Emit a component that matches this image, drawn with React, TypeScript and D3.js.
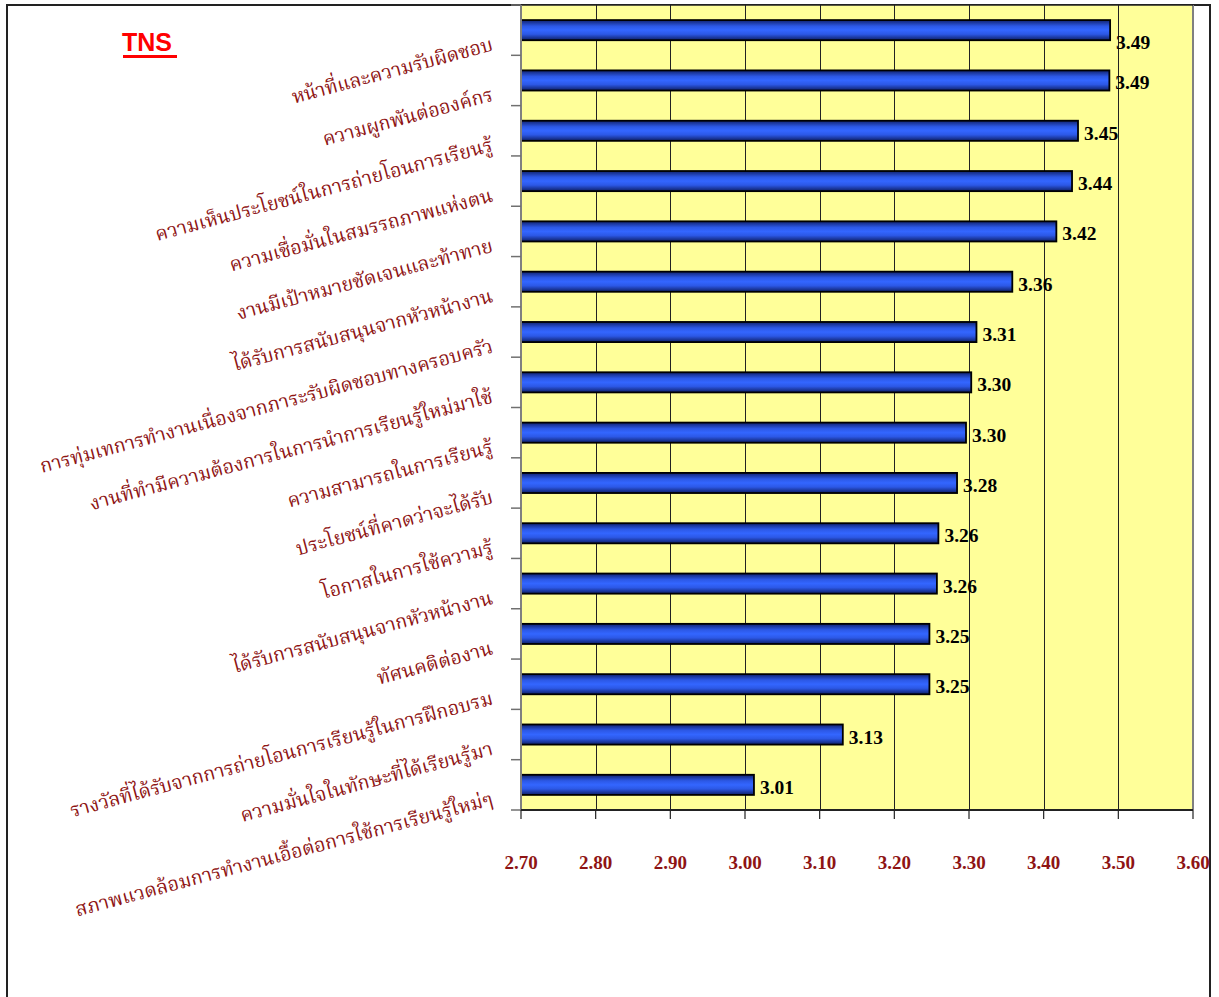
import React from "react";
import * as d3 from "d3";

const categories: string[] = [
  "หน้าที่และความรับผิดชอบ",
  "ความผูกพันต่อองค์กร",
  "ความเห็นประโยชน์ในการถ่ายโอนการเรียนรู้",
  "ความเชื่อมั่นในสมรรถภาพแห่งตน",
  "งานมีเป้าหมายชัดเจนและท้าทาย",
  "ได้รับการสนับสนุนจากหัวหน้างาน",
  "การทุ่มเทการทำงานเนื่องจากภาระรับผิดชอบทางครอบครัว",
  "งานที่ทำมีความต้องการในการนำการเรียนรู้ใหม่มาใช้",
  "ความสามารถในการเรียนรู้",
  "ประโยชน์ที่คาดว่าจะได้รับ",
  "โอกาสในการใช้ความรู้",
  "ได้รับการสนับสนุนจากหัวหน้างาน",
  "ทัศนคติต่องาน",
  "รางวัลที่ได้รับจากการถ่ายโอนการเรียนรู้ในการฝึกอบรม",
  "ความมั่นใจในทักษะที่ได้เรียนรู้มา",
  "สภาพแวดล้อมการทำงานเอื้อต่อการใช้การเรียนรู้ใหม่ๆ",
];

const values: number[] = [
  3.489, 3.488, 3.446, 3.438, 3.417, 3.358, 3.31, 3.303, 3.296, 3.284, 3.259,
  3.257, 3.247, 3.247, 3.131, 3.012,
];

const xTicks: number[] = [2.7, 2.8, 2.9, 3.0, 3.1, 3.2, 3.3, 3.4, 3.5, 3.6];
const titleText = "TNS";

const W = 1219;
const H = 997;
const plot = { left: 521, right: 1193, top: 5, bottom: 810 };
const labelRed = "#8e1414";
const thaiFont =
  "'Norasi', 'Noto Serif Thai', 'Noto Sans Thai', 'Tlwg Typo', 'Loma', 'Garuda', 'DejaVu Serif', serif";
const numFont = "'Liberation Serif', 'Times New Roman', serif";

export default function App() {
  const x = d3.scaleLinear().domain([2.7, 3.6]).range([plot.left, plot.right]);
  const idx = categories.map((_, i) => i);
  const y = d3
    .scaleBand<number>()
    .domain(idx)
    .range([plot.top, plot.bottom])
    .paddingInner(0.6)
    .paddingOuter(0.3);
  const step = y.step();
  const bw = y.bandwidth();
  const center = (i: number) => (y(i) as number) + bw / 2;
  const boundaries = d3.range(categories.length + 1).map((k) => plot.top + k * step);

  return (
    <svg
      width={W}
      height={H}
      style={{ position: "absolute", left: 0, top: 0, display: "block", background: "#fff" }}
    >
      <defs>
        <linearGradient id="barGrad" x1="0" y1="0" x2="0" y2="1">
          <stop offset="0%" stopColor="#10226e" />
          <stop offset="30%" stopColor="#2c58e6" />
          <stop offset="50%" stopColor="#3366ff" />
          <stop offset="70%" stopColor="#2c58e6" />
          <stop offset="100%" stopColor="#0e1f66" />
        </linearGradient>
      </defs>

      {/* outer frame */}
      <path d={`M7,${H + 5} L7,5 L1210,5 L1210,${H + 5}`} fill="none" stroke="#222" strokeWidth={2} />

      {/* plot background */}
      <rect
        x={plot.left}
        y={plot.top}
        width={plot.right - plot.left}
        height={plot.bottom - plot.top}
        fill="#ffff99"
      />

      {/* gridlines */}
      {xTicks.slice(1, -1).map((t) => (
        <line
          key={"g" + t}
          x1={Math.round(x(t)) + 0.5}
          x2={Math.round(x(t)) + 0.5}
          y1={plot.top}
          y2={plot.bottom}
          stroke="#222"
          strokeWidth={1}
        />
      ))}
      <line x1={plot.right} x2={plot.right} y1={plot.top} y2={plot.bottom} stroke="#808080" strokeWidth={2} />
      <line x1={plot.left} x2={plot.right} y1={plot.top} y2={plot.top} stroke="#222" strokeWidth={1.5} />

      {/* bars */}
      {values.map((v, i) => (
        <rect
          key={"b" + i}
          x={x(2.7)}
          y={y(i) as number}
          width={x(v) - x(2.7)}
          height={bw}
          fill="url(#barGrad)"
          stroke="#000"
          strokeWidth={1.8}
        />
      ))}

      {/* value labels */}
      {values.map((v, i) => (
        <text
          key={"v" + i}
          x={x(v) + 6}
          y={center(i) + (i === 0 ? 14 : 4.5)}
          dominantBaseline="middle"
          fontFamily={numFont}
          fontWeight="bold"
          fontSize={19.5}
          fill="#000"
        >
          {v.toFixed(2)}
        </text>
      ))}

      {/* y axis */}
      <line x1={plot.left} x2={plot.left} y1={plot.top} y2={plot.bottom} stroke="#808080" strokeWidth={2} />
      {boundaries.map((b, k) => (
        <line key={"yt" + k} x1={plot.left - 10} x2={plot.left} y1={b} y2={b} stroke="#707070" strokeWidth={1.5} />
      ))}

      {/* x axis */}
      <line x1={plot.left} x2={plot.right} y1={plot.bottom} y2={plot.bottom} stroke="#222" strokeWidth={2} />
      {xTicks.map((t) => (
        <g key={"xt" + t}>
          <line x1={x(t)} x2={x(t)} y1={plot.bottom} y2={plot.bottom + 9} stroke="#222" strokeWidth={1.2} />
          <text
            x={x(t)}
            y={869}
            textAnchor="middle"
            fontFamily={numFont}
            fontWeight="bold"
            fontSize={19}
            fill={labelRed}
          >
            {t.toFixed(2)}
          </text>
        </g>
      ))}

      {/* category labels */}
      {categories.map((c, i) => {
        const ax = 494;
        const ay = center(i) + 20;
        return (
          <text
            key={"c" + i}
            x={ax}
            y={ay}
            textAnchor="end"
            transform={`rotate(-15 ${ax} ${ay})`}
            fontFamily={thaiFont}
            fontSize={19.5}
            fill={labelRed}
          >
            {c}
          </text>
        );
      })}

      {/* title */}
      <text
        x={122}
        y={51}
        fontFamily="'Liberation Sans', Arial, sans-serif"
        fontWeight="bold"
        fontSize={25}
        fill="#ff0000"
      >
        {titleText}
      </text>
      <rect x={123} y={55} width={54} height={3} fill="#ff0000" />
    </svg>
  );
}
